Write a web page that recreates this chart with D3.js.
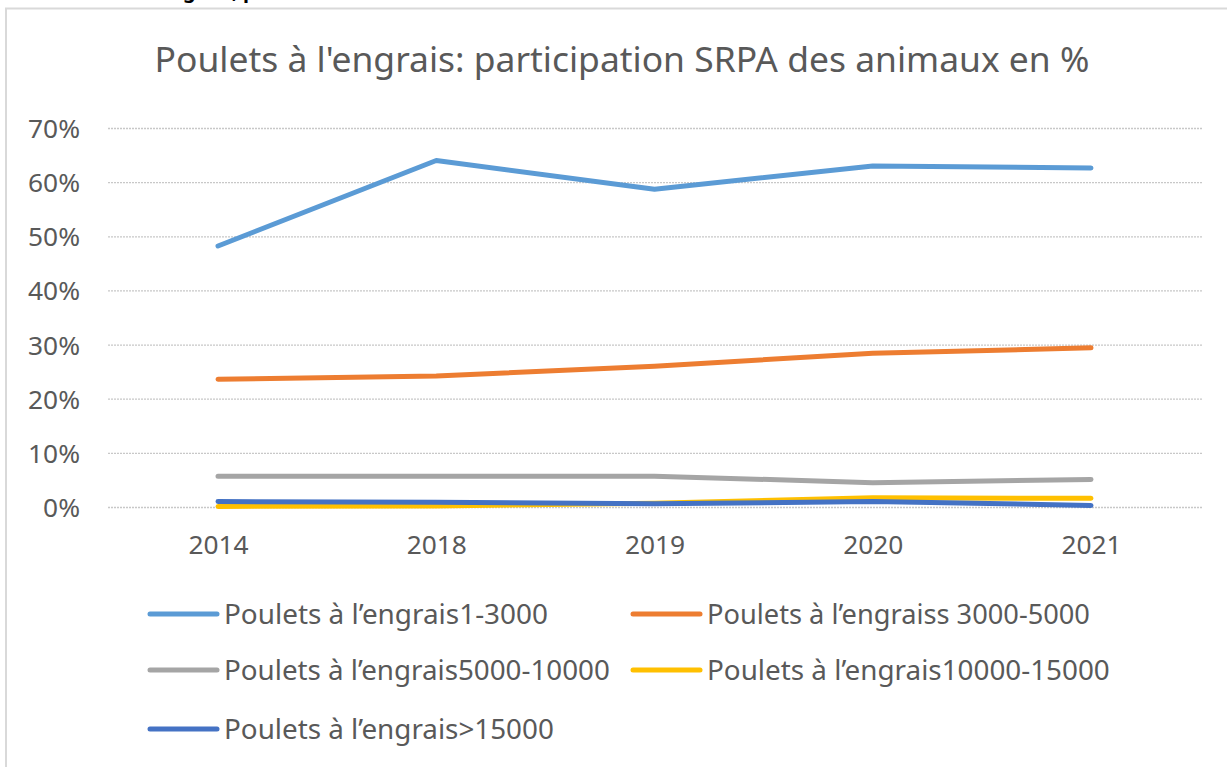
<!DOCTYPE html>
<html>
<head>
<meta charset="utf-8">
<script src="https://cdn.jsdelivr.net/npm/d3@7"></script>
<style>
  body { margin: 0; background: #fff; }
  svg { display: block; }
  text { font-family: "Noto Sans", "Open Sans", sans-serif; fill: #595959; }
</style>
</head>
<body>
<svg width="1227" height="767"></svg>
<script>
var years = ["2014", "2018", "2019", "2020", "2021"];
var yTicks = [0, 0.1, 0.2, 0.3, 0.4, 0.5, 0.6, 0.7];
var names = ["Poulets à l’engrais1-3000", "Poulets à l’engraiss 3000-5000", "Poulets à l’engrais5000-10000", "Poulets à l’engrais10000-15000", "Poulets à l’engrais>15000"];
var colors = ["#5b9bd5", "#ed7d31", "#a5a5a5", "#ffc000", "#4472c4"];
var s1 = [0.482, 0.640, 0.587, 0.630, 0.626];
var s2 = [0.236, 0.242, 0.260, 0.284, 0.294];
var s3 = [0.057, 0.057, 0.057, 0.045, 0.051];
var s4 = [0.001, 0.002, 0.007, 0.017, 0.016];
var s5 = [0.010, 0.009, 0.006, 0.010, 0.003];
var series = [s1, s2, s3, s4, s5];

var svg = d3.select("svg");

// shrink/grow font so text fits a given width
function fit(t, w) {
  var fs = parseFloat(t.attr("font-size"));
  var len = t.node().getComputedTextLength();
  t.attr("font-size", (fs * w / len).toFixed(2));
  return fs * w / len;
}

// chart frame (only top and left edges visible)
svg.append("path").attr("d", "M6,767V8.5H1227").attr("fill", "none").attr("stroke", "#d9d9d9").attr("stroke-width", 2);

// caption from above the chart, mostly cut off
svg.append("text").attr("x", 158).attr("y", -2).attr("font-size", 20).attr("font-weight", "bold")
  .style("fill", "#000").text("engrais, p");

var t = svg.append("text").attr("x", 622).attr("y", 72).attr("text-anchor", "middle")
  .attr("font-size", 29).text("Poulets à l'engrais: participation SRPA des animaux en %");
fit(t, 935);

var x = d3.scalePoint().domain(years).range([218, 1091]);
var y = d3.scaleLinear().domain([0, 0.7]).range([507, 128]);

// gridlines
svg.append("g").selectAll("line").data(yTicks).enter().append("line")
  .attr("x1", 108).attr("x2", 1202)
  .attr("y1", function(d){ return y(d) + 0.5; }).attr("y2", function(d){ return y(d) + 0.5; })
  .attr("stroke", "#c8c8c8").attr("stroke-width", 1.3).attr("stroke-dasharray", "2,1");

var y_axis = d3.axisLeft(y).tickValues(yTicks).tickFormat(d3.format(".0%")).tickSize(0).tickPadding(0);
var gy = svg.append("g").attr("transform", "translate(80,0)").call(y_axis);
gy.select(".domain").remove();
var yl = gy.selectAll("text").attr("font-size", 20).attr("font-family", null).attr("dy", "0.36em");
var yfs = fit(d3.select(yl.nodes()[7]), 52);
yl.attr("font-size", yfs);

var x_axis = d3.axisBottom(x).tickSize(0).tickPadding(0);
var gx = svg.append("g").attr("transform", "translate(0,535)").call(x_axis);
gx.select(".domain").remove();
gx.selectAll("text").attr("font-size", yfs).attr("font-family", null).attr("dy", "0.71em");

var line = d3.line().x(function(d, i){ return x(years[i]); }).y(function(d){ return y(d); });

svg.append("g").selectAll("path").data(series).enter().append("path")
  .attr("d", line).attr("fill", "none")
  .attr("stroke", function(d, i){ return colors[i]; })
  .attr("stroke-width", 5).attr("stroke-linecap", "round").attr("stroke-linejoin", "round");

// legend
var legX = [150, 633], legY = [614, 670, 729];
var leg = svg.append("g").selectAll("g").data(names).enter().append("g")
  .attr("transform", function(d, i){ return "translate(" + legX[i % 2] + "," + legY[Math.floor(i / 2)] + ")"; });
leg.append("line").attr("x1", 0).attr("x2", 67).attr("stroke", function(d, i){ return colors[i]; })
  .attr("stroke-width", 5).attr("stroke-linecap", "round");
var legW = [324, 383, 386, 403, 330];
leg.append("text").attr("x", 74).attr("dy", "0.35em").attr("font-size", 22).text(function(d){ return d; })
  .each(function(d, i){ fit(d3.select(this), legW[i]); });
</script>
</body>
</html>
